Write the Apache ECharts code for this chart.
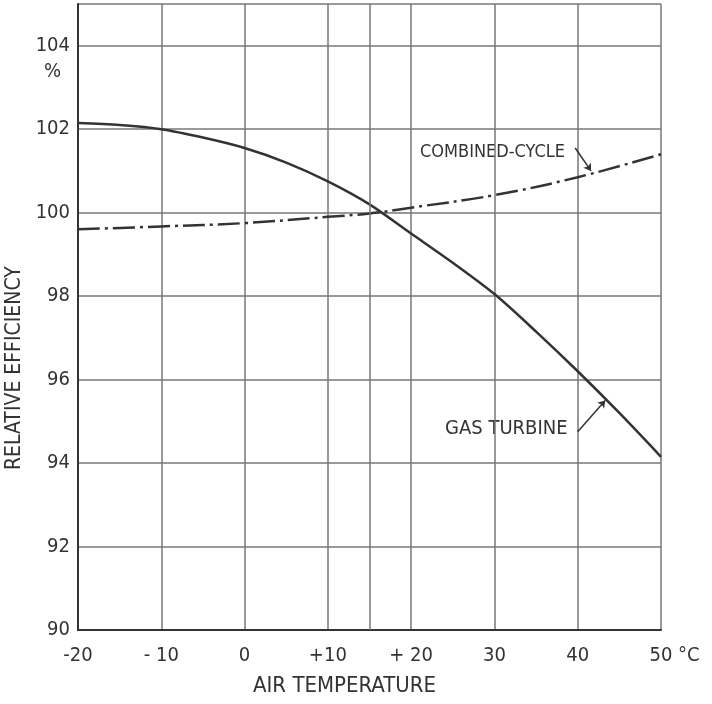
<!DOCTYPE html>
<html lang="en">
<head>
    <meta charset="UTF-8">
    <title>Relative efficiency vs air temperature</title>
    <script src="https://cdn.jsdelivr.net/npm/echarts@6/dist/echarts.min.js"></script>
    <style>
        html, body { margin: 0; padding: 0; background: #fff; }
    </style>
</head>
<body>
<div id="myDiv" style="width: 712px;height: 704px"></div>

<script>
    // temperatures (°C) and relative efficiency (%)
    var gasTemps = [-20, -15, -10, -5, 0, 5, 10, 15, 20, 25, 30, 35, 40, 45, 50];
    var gasEff = [102.15, 102.1, 102.0, 101.8, 101.55, 101.2, 100.75, 100.2, 99.5, 98.8, 98.05, 97.15, 96.2, 95.2, 94.15];
    var ccTemps = [-20, -10, 0, 10, 15, 20, 30, 40, 50];
    var ccEff = [99.6, 99.67, 99.75, 99.9, 99.98, 100.12, 100.42, 100.85, 101.4];
    var xTickLabels = {'-20': '-20', '-10': '- 10', '0': '0', '10': '+10', '20': '+ 20', '30': '30', '40': '40', '50': '50'};
    var isoTemp = 15;

    var ink = '#333';
    var gridCol = '#777';
    var font = '"DejaVu Sans Condensed", "DejaVu Sans", sans-serif';

    function pairs(xs, ys) {
        var out = [];
        for (var i = 0; i < xs.length; i++) out.push([xs[i], ys[i]]);
        return out;
    }

    var mainChart = echarts.init(document.getElementById("myDiv"));
    var option = {
        animation: false,
        textStyle: {fontFamily: font, color: ink},
        grid: {left: 78, top: 4, right: 51, bottom: 74},
        xAxis: {
            type: 'value', min: -20, max: 50, interval: 10,
            axisLine: {lineStyle: {color: ink, width: 2}},
            axisTick: {show: false},
            axisLabel: {
                color: ink, fontSize: 20, margin: 16, fontFamily: font,
                formatter: function (v) { return xTickLabels[String(v)] || ''; }
            },
            splitLine: {show: true, lineStyle: {color: gridCol, width: 1.5}}
        },
        yAxis: {
            type: 'value', min: 90, max: 105, interval: 2,
            axisLine: {show: true, onZero: false, lineStyle: {color: ink, width: 2}},
            axisTick: {show: false},
            axisLabel: {
                color: ink, fontSize: 20, margin: 8, fontFamily: font,
                formatter: function (v) { return v > 104 ? '' : String(v); }
            },
            splitLine: {show: true, lineStyle: {color: gridCol, width: 1.5}}
        },
        series: [
            {
                name: 'GAS TURBINE', type: 'line', smooth: 0.3, showSymbol: false,
                data: pairs(gasTemps, gasEff),
                lineStyle: {color: ink, width: 2.5},
                markLine: {
                    silent: true, symbol: ['none', 'none'], label: {show: false},
                    lineStyle: {color: gridCol, width: 1.5, type: 'solid'},
                    data: [{xAxis: isoTemp}]
                },
                z: 3
            },
            {
                name: 'COMBINED-CYCLE', type: 'line', smooth: 0.4, showSymbol: false,
                data: pairs(ccTemps, ccEff),
                lineStyle: {color: ink, width: 2.5, type: [22, 5, 3, 5]},
                z: 3
            },
            {
                // leader arrows for the curve labels
                type: 'line', data: [], silent: true,
                markLine: {
                    silent: true, symbol: ['none', 'arrow'], symbolSize: 7,
                    label: {show: false},
                    lineStyle: {color: ink, width: 1.5, type: 'solid'},
                    data: [
                        [{coord: [39.7, 101.55]}, {coord: [41.6, 101.0]}],
                        [{coord: [40.0, 94.75]}, {coord: [43.3, 95.5]}]
                    ]
                }
            }
        ],
        graphic: [
            {type: 'text', x: 44, y: 62, style: {text: '%', fill: ink, font: '20px ' + font}},
            {type: 'text', x: 420, y: 143, style: {text: 'COMBINED-CYCLE', fill: ink, font: '18px ' + font}},
            {type: 'text', x: 445, y: 419, style: {text: 'GAS TURBINE', fill: ink, font: '20px ' + font}},
            {type: 'text', x: 678, y: 646, style: {text: '°C', fill: ink, font: '20px ' + font}},
            {type: 'text', x: 253, y: 675, style: {text: 'AIR TEMPERATURE', fill: ink, font: '22px ' + font}},
            {
                type: 'text', x: 4, y: 470, rotation: Math.PI / 2,
                style: {text: 'RELATIVE EFFICIENCY', fill: ink, font: '21px ' + font}
            }
        ]
    };
    mainChart.setOption(option);
</script>
</body>
</html>
